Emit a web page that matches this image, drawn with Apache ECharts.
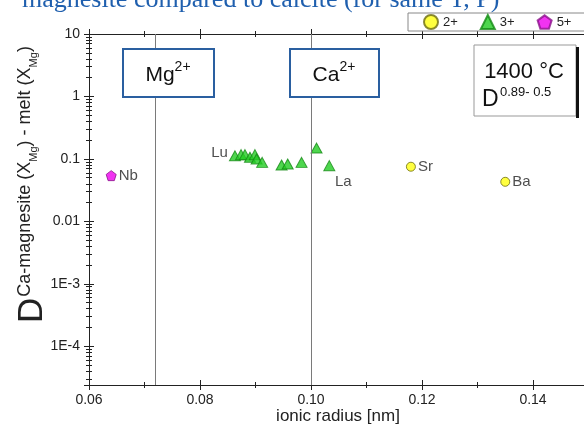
<!DOCTYPE html>
<html>
<head>
<meta charset="utf-8">
<script src="https://cdn.jsdelivr.net/npm/echarts@6/dist/echarts.min.js"></script>
<style>html,body{margin:0;padding:0;background:#fff;overflow:hidden;}#chart{width:700px;height:429px;}</style>
</head>
<body>
<div id="chart"></div>
<script>
// ---------- data ----------
const xTickInterval = 0.02;
const xMin = 0.06;
const xMax = 0.16;
const yMin = 2.4e-5;
const yMax = 10;

const divalentIons = ['Sr', 'Ba'];
const divalentRadius = [0.118, 0.135];
const divalentD = [0.075, 0.043];

const trivalentIons = ['Lu', '', '', '', '', '', '', '', '', '', '', 'La'];
const trivalentRadius = [0.0863, 0.0874, 0.0881, 0.0890, 0.0899, 0.0902, 0.0912, 0.0947, 0.0958, 0.0983, 0.1010, 0.1033];
const trivalentD = [0.112, 0.117, 0.117, 0.106, 0.117, 0.100, 0.088, 0.080, 0.083, 0.088, 0.149, 0.078];

const pentavalentIons = ['Nb'];
const pentavalentRadius = [0.064];
const pentavalentD = [0.054];

const hostIonRadius = [0.072, 0.100]; // Mg2+, Ca2+

const legendNames = ['2+', '3+', '5+'];

// ---------- build ----------
const FONT = 'Liberation Sans, Arial, sans-serif';
const pentagon = 'path://M0,-1 L0.951,-0.309 L0.588,0.809 L-0.588,0.809 L-0.951,-0.309 Z';

function pts(rad, d, names, labelCfg) {
  return rad.map((r, i) => {
    const o = { value: [r, d[i]], name: names[i] };
    if (names[i] && labelCfg[names[i]]) o.label = Object.assign({ show: true, formatter: names[i] }, labelCfg[names[i]]);
    return o;
  });
}
const labelCfg = {
  Sr: { position: 'right', distance: 2 },
  Ba: { position: 'right', distance: 2 },
  Nb: { position: 'right', distance: 2 },
  Lu: { position: 'left', distance: 1, offset: [0, -3] },
  La: { position: 'bottom', distance: 3, offset: [14, 0] }
};
const labelText = { color: '#222', fontSize: 15, fontFamily: FONT };

const chart = echarts.init(document.getElementById('chart'), null, { renderer: 'canvas' });

const axisLineStyle = { color: '#222', width: 1 };
function xAx(position, inside, labels, line) {
  return {
    type: 'value', min: xMin, max: xMax, interval: xTickInterval, position: position,
    axisLine: { show: line, onZero: false, lineStyle: axisLineStyle },
    axisTick: { show: true, inside: inside, length: 5, lineStyle: axisLineStyle },
    minorTick: { show: true, splitNumber: 2, length: 3, lineStyle: axisLineStyle },
    axisLabel: { show: labels, color: '#222', fontSize: 14, fontFamily: FONT, margin: 8,
      formatter: v => v.toFixed(2), showMaxLabel: false },
    splitLine: { show: false }
  };
}
function yAx(inside, labels, line) {
  return {
    type: 'log', logBase: 10, min: yMin, max: yMax, position: 'left',
    axisLine: { show: line, onZero: false, lineStyle: axisLineStyle },
    axisTick: { show: true, inside: inside, length: 5, lineStyle: axisLineStyle },
    minorTick: { show: true, splitNumber: 9, length: 3, lineStyle: axisLineStyle },
    axisLabel: { show: labels, color: '#222', fontSize: 14, fontFamily: FONT, margin: 9, showMinLabel: false,
      formatter: v => {
        const e = Math.round(Math.log10(v));
        if (e >= 1) return String(Math.pow(10, e));
        if (e === 0) return '1';
        if (e >= -2) return Math.pow(10, e).toFixed(-e);
        return '1E' + e;
      } },
    splitLine: { show: false }
  };
}

// y-axis title pieces measured on canvas
const mctx = document.createElement('canvas').getContext('2d');
function tw(t, fs) { mctx.font = fs + 'px ' + FONT; return mctx.measureText(t).width; }
const yNameParts = [
  { t: 'D', fs: 35, ly: 0 },
  { t: 'Ca-magnesite (X', fs: 18, ly: -16, gap: 1 },
  { t: 'Mg', fs: 11, ly: -11 },
  { t: ') - melt (X', fs: 18, ly: -16 },
  { t: 'Mg', fs: 11, ly: -11 },
  { t: ')', fs: 18, ly: -16 }
];
let lx = 0;
const yNameChildren = yNameParts.map(p => {
  lx += p.gap || 0;
  const el = { type: 'text', x: lx, y: p.ly, style: { text: p.t, fontSize: p.fs, fontFamily: FONT, fill: '#222', verticalAlign: 'bottom', align: 'left' } };
  lx += tw(p.t, p.fs);
  return el;
});

const option = {
  animation: false,
  backgroundColor: '#fff',
  grid: { left: 89, right: 700 - (89 + 55.5 * 10), top: 34, bottom: 44, containLabel: false },
  legend: {
    data: legendNames, left: 408, top: 13, itemWidth: 14, itemHeight: 14, itemGap: 22,
    padding: [1, 40, 1, 15], borderColor: '#888', borderWidth: 1, backgroundColor: '#fff',
    textStyle: { color: '#222', fontSize: 13, fontFamily: FONT }, selectedMode: false
  },
  xAxis: [xAx('bottom', false, true, true), xAx('bottom', true, false, false), xAx('top', false, false, true), xAx('top', true, false, false)],
  yAxis: [yAx(false, true, true), yAx(true, false, false)],
  series: [
    {
      name: '2+', type: 'scatter', symbol: 'circle', symbolSize: 9,
      itemStyle: { color: '#ffff10', borderColor: '#6b6b10', borderWidth: 1 },
      label: labelText,
      data: pts(divalentRadius, divalentD, divalentIons, labelCfg),
      markLine: {
        silent: true, symbol: 'none', precision: 5, label: { show: false },
        lineStyle: { color: '#7a7a7a', width: 1, type: 'solid' },
        data: hostIonRadius.map(r => ({ xAxis: r }))
      }
    },
    {
      name: '3+', type: 'scatter', symbol: 'triangle', symbolSize: [11, 10],
      itemStyle: { color: '#22cc22', borderColor: '#148a14', borderWidth: 1 },
      label: labelText,
      data: pts(trivalentRadius, trivalentD, trivalentIons, labelCfg)
    },
    {
      name: '5+', type: 'scatter', symbol: pentagon, symbolSize: 10,
      itemStyle: { color: '#ee00ee', borderColor: '#8a148a', borderWidth: 1 },
      label: labelText,
      data: pts(pentavalentRadius, pentavalentD, pentavalentIons, labelCfg)
    }
  ],
  graphic: [
    { type: 'text', left: 22, top: -13, z: 10,
      style: { text: 'magnesite compared to calcite (for same T, P)', fontSize: 26, fontFamily: 'Liberation Serif, Times New Roman, serif', fill: '#1f5fae' } },
    { type: 'text', x: 338, y: 408, z: 10,
      style: { text: 'ionic radius [nm]', fontSize: 17, fontFamily: FONT, fill: '#222', align: 'center', verticalAlign: 'top' } },
    { type: 'group', x: 50, y: 323, rotation: Math.PI / 2, z: 10, children: yNameChildren },
    // Mg2+ box
    { type: 'rect', shape: { x: 123, y: 49, width: 91, height: 48 }, z: 10,
      style: { fill: '#fff', stroke: '#2a5fa0', lineWidth: 2 } },
    { type: 'text', x: 168, y: 73, z: 11,
      style: { text: '{m|Mg}{s|2+}', align: 'center', verticalAlign: 'middle', fill: '#111',
        rich: { m: { fontSize: 21, fontFamily: FONT, verticalAlign: 'bottom', lineHeight: 25 }, s: { fontSize: 14, fontFamily: FONT, verticalAlign: 'top', lineHeight: 15 } } } },
    // Ca2+ box
    { type: 'rect', shape: { x: 290, y: 49, width: 89, height: 48 }, z: 10,
      style: { fill: '#fff', stroke: '#2a5fa0', lineWidth: 2 } },
    { type: 'text', x: 334, y: 73, z: 11,
      style: { text: '{m|Ca}{s|2+}', align: 'center', verticalAlign: 'middle', fill: '#111',
        rich: { m: { fontSize: 21, fontFamily: FONT, verticalAlign: 'bottom', lineHeight: 25 }, s: { fontSize: 14, fontFamily: FONT, verticalAlign: 'top', lineHeight: 15 } } } },
    // 1400 C box
    { type: 'rect', shape: { x: 474, y: 45, width: 102, height: 71 }, z: 10,
      style: { fill: '#fff', stroke: '#999', lineWidth: 1 } },
    { type: 'line', shape: { x1: 577.5, y1: 47, x2: 577.5, y2: 118 }, z: 10,
      style: { stroke: '#111', lineWidth: 3 } },
    { type: 'text', x: 524, y: 72, z: 11,
      style: { text: '1400 °C', fontSize: 22, fontFamily: FONT, fill: '#111', align: 'center', verticalAlign: 'middle' } },
    { type: 'text', x: 482, y: 111, z: 11,
      style: { text: 'D', fontSize: 23, fontFamily: FONT, fill: '#111', align: 'left', verticalAlign: 'bottom' } },
    { type: 'text', x: 500, y: 92, z: 11,
      style: { text: '0.89- 0.5', fontSize: 13, fontFamily: FONT, fill: '#111', align: 'left', verticalAlign: 'middle' } }
  ]
};
chart.setOption(option);
</script>
</body>
</html>
